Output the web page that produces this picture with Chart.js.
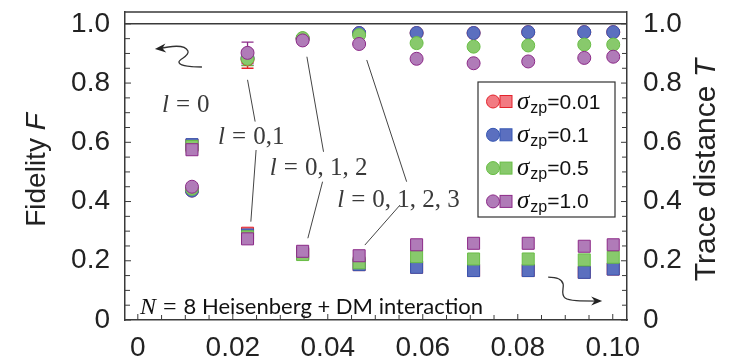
<!DOCTYPE html>
<html>
<head>
<meta charset="utf-8">
<script src="https://cdn.jsdelivr.net/npm/chart.js@4.4.1/dist/chart.umd.min.js"></script>
<style>
  html, body { margin: 0; background: #fff; }
  #wrap { width: 736px; height: 360px; }
</style>
</head>
<body>
<div id="wrap"><canvas id="fidelity"></canvas></div>
<script>
// mismatch strength on the x axis
const xVals = [0.0114, 0.0231, 0.0347, 0.0466, 0.0587, 0.0707, 0.0822, 0.0940, 0.1001];
const sigmaLabels = ["0.01", "0.1", "0.5", "1.0"];

// fidelity F (circles, left axis)
const fidRed    = [0.437, 0.880, 0.950, 0.969, 0.969, 0.969, 0.972, 0.972, 0.972];
const fidBlue   = [0.437, 0.885, 0.950, 0.969, 0.969, 0.969, 0.972, 0.972, 0.972];
const fidGreen  = [0.443, 0.882, 0.952, 0.962, 0.935, 0.923, 0.927, 0.930, 0.930];
const fidPurple = [0.450, 0.902, 0.944, 0.932, 0.882, 0.867, 0.873, 0.885, 0.889];

// error bars on F
const errRed    = [0, 0.030, 0, 0, 0, 0, 0, 0, 0];
const errBlue   = [0, 0.025, 0, 0, 0, 0, 0, 0, 0];
const errGreen  = [0, 0.023, 0, 0, 0, 0, 0, 0, 0];
const errPurple = [0, 0.036, 0, 0, 0, 0, 0, 0, 0];

// trace distance T (squares, right axis)
const trRed    = [0.591, 0.293, 0.224, 0.187, 0.178, 0.167, 0.167, 0.161, 0.172];
const trBlue   = [0.592, 0.287, 0.224, 0.187, 0.178, 0.167, 0.167, 0.161, 0.172];
const trGreen  = [0.586, 0.281, 0.221, 0.193, 0.214, 0.206, 0.206, 0.203, 0.212];
const trPurple = [0.575, 0.274, 0.232, 0.217, 0.254, 0.259, 0.259, 0.249, 0.254];

const series = [
  { name: sigmaLabels[0], fid: fidRed, err: errRed, tr: trRed, fill: "#f27a82", edge: "#e3232c", order: 3 },
  { name: sigmaLabels[1], fid: fidBlue, err: errBlue, tr: trBlue, fill: "#5b6fbf", edge: "#3657b3", order: 2 },
  { name: sigmaLabels[2], fid: fidGreen, err: errGreen, tr: trGreen, fill: "#88c96c", edge: "#68bd45", order: 1 },
  { name: sigmaLabels[3], fid: fidPurple, err: errPurple, tr: trPurple, fill: "#b07bb8", edge: "#8c2a88", order: 0 },
];

// l = ... labels and their leader lines (data coordinates)
const annoLabels = [
  { text: "0", x: 0.0051, y: 0.726 },
  { text: "0,1", x: 0.0169, y: 0.618 },
  { text: "0, 1, 2", x: 0.0278, y: 0.513 },
  { text: "0, 1, 2, 3", x: 0.0420, y: 0.405 },
];
const leaders = [
  [0.0231, 0.811, 0.0247, 0.670],
  [0.0249, 0.574, 0.0238, 0.332],
  [0.0356, 0.889, 0.0391, 0.568],
  [0.0389, 0.467, 0.0358, 0.276],
  [0.0482, 0.878, 0.0566, 0.467],
  [0.0552, 0.388, 0.0478, 0.253],
];

const datasets = [];
series.forEach((s) => {
  datasets.push({
    label: "F " + s.name,
    data: xVals.map((x, i) => ({ x: x, y: s.fid[i] })),
    yAxisID: "y",
    pointStyle: "circle",
    pointRadius: 6.5,
    pointHoverRadius: 6.5,
    backgroundColor: s.fill,
    borderColor: s.edge,
    borderWidth: 1,
    order: s.order,
  });
  datasets.push({
    label: "T " + s.name,
    data: xVals.map((x, i) => ({ x: x, y: s.tr[i] })),
    yAxisID: "y2",
    pointStyle: "rect",
    pointRadius: 8.5,
    pointHoverRadius: 8.5,
    backgroundColor: s.fill,
    borderColor: s.edge,
    borderWidth: 1,
    order: s.order,
  });
});

const SANS = '"Liberation Sans", Arial, sans-serif';
const SERIF = '"Liberation Serif", "Times New Roman", serif';

function drawRuns(ctx, x, y, parts) {
  parts.forEach((p) => {
    ctx.font = p.font;
    ctx.fillText(p.t, x, y + (p.dy || 0));
    x += ctx.measureText(p.t).width + (p.gap || 0);
  });
  return x;
}

function arrowHead(ctx, x, y, ang) {
  ctx.save();
  ctx.translate(x, y);
  ctx.rotate(ang);
  ctx.beginPath();
  ctx.moveTo(0, 0);
  ctx.lineTo(-11, -4.5);
  ctx.lineTo(-7.5, 0);
  ctx.lineTo(-11, 4.5);
  ctx.closePath();
  ctx.fill();
  ctx.restore();
}

function inwardTicks(ctx, scale, side, area) {
  const step = scale.options.ticks.stepSize;
  scale.ticks.forEach((t) => {
    const k = Math.round(t.value / step);
    const len = k % 4 === 0 ? 6 : 5;
    const p = scale.getPixelForValue(t.value);
    ctx.beginPath();
    if (side === "bottom") { ctx.moveTo(p, area.bottom); ctx.lineTo(p, area.bottom - len); }
    if (side === "left") { ctx.moveTo(area.left, p); ctx.lineTo(area.left + len, p); }
    if (side === "right") { ctx.moveTo(area.right, p); ctx.lineTo(area.right - len, p); }
    ctx.stroke();
  });
}

const decor = {
  id: "decor",
  beforeDatasetsDraw(chart) {
    const ctx = chart.ctx;
    const xs = chart.scales.x, ys = chart.scales.y;
    ctx.save();
    ctx.lineWidth = 1.3;
    series.forEach((s) => {
      ctx.strokeStyle = s.edge;
      xVals.forEach((x, i) => {
        if (!s.err[i]) return;
        const px = xs.getPixelForValue(x);
        const lo = ys.getPixelForValue(s.fid[i] - s.err[i]);
        const hi = ys.getPixelForValue(s.fid[i] + s.err[i]);
        ctx.beginPath();
        ctx.moveTo(px, lo); ctx.lineTo(px, hi);
        ctx.moveTo(px - 6, lo); ctx.lineTo(px + 6, lo);
        ctx.moveTo(px - 6, hi); ctx.lineTo(px + 6, hi);
        ctx.stroke();
      });
    });
    ctx.restore();
  },
  afterDraw(chart) {
    const ctx = chart.ctx;
    const a = chart.chartArea;
    const xs = chart.scales.x, ys = chart.scales.y;
    const P = (xv, yv) => [xs.getPixelForValue(xv), ys.getPixelForValue(yv)];
    ctx.save();

    // frame top and the F = 1 line
    ctx.strokeStyle = "#3a3a3a";
    ctx.lineWidth = 1.5;
    ctx.beginPath();
    ctx.moveTo(a.left, a.top); ctx.lineTo(a.right, a.top);
    const one = ys.getPixelForValue(1);
    ctx.moveTo(a.left, one); ctx.lineTo(a.right, one);
    ctx.stroke();

    // tick marks pointing into the plot
    ctx.lineWidth = 1;
    inwardTicks(ctx, xs, "bottom", a);
    inwardTicks(ctx, ys, "left", a);
    inwardTicks(ctx, chart.scales.y2, "right", a);

    // leader lines
    ctx.strokeStyle = "#444";
    ctx.lineWidth = 1;
    leaders.forEach((l) => {
      const p0 = P(l[0], l[1]), p1 = P(l[2], l[3]);
      ctx.beginPath();
      ctx.moveTo(p0[0], p0[1]);
      ctx.lineTo(p1[0], p1[1]);
      ctx.stroke();
    });

    // l = ... labels
    ctx.fillStyle = "#3a3a3a";
    ctx.textBaseline = "middle";
    ctx.textAlign = "left";
    annoLabels.forEach((l) => {
      const p = P(l.x, l.y);
      drawRuns(ctx, p[0], p[1], [
        { t: "l", font: "italic 25px " + SERIF, gap: 7 },
        { t: "=", font: "25px " + SERIF, gap: 7 },
        { t: l.text, font: "25px " + SERIF },
      ]);
    });

    // curly arrows
    ctx.strokeStyle = "#333";
    ctx.fillStyle = "#222";
    ctx.lineWidth = 1.3;
    let [tx, ty] = P(0.0036, 0.915);
    ctx.beginPath();
    ctx.moveTo(tx + 4, ty);
    ctx.bezierCurveTo(tx + 15, ty - 3, tx + 30, ty - 5, tx + 33, ty + 2);
    ctx.bezierCurveTo(tx + 35, ty + 7, tx + 24, ty + 10, tx + 24, ty + 13);
    ctx.bezierCurveTo(tx + 24, ty + 17, tx + 38, ty + 18, tx + 47, ty + 18);
    ctx.stroke();
    arrowHead(ctx, tx, ty, Math.PI - 0.1);

    let [sx, sy] = P(0.0864, 0.145);
    ctx.beginPath();
    ctx.moveTo(sx, sy);
    ctx.bezierCurveTo(sx + 7, sy, sx + 14, sy + 2, sx + 15, sy + 7);
    ctx.bezierCurveTo(sx + 16, sy + 12, sx + 12, sy + 17, sx + 17, sy + 21);
    ctx.bezierCurveTo(sx + 21, sy + 24, sx + 32, sy + 24, sx + 50, sy + 24);
    ctx.stroke();
    arrowHead(ctx, sx + 54, sy + 24, 0);

    // model caption
    ctx.fillStyle = "#111";
    ctx.textBaseline = "alphabetic";
    drawRuns(ctx, a.left + 15, a.bottom - 6, [
      { t: "N", font: "italic 24px " + SERIF, gap: 7 },
      { t: "=", font: "24px " + SERIF, gap: 7 },
      { t: "8 Heisenberg + DM interaction", font: "22px Lato, sans-serif" },
    ]);

    // legend
    const lx = a.right - 149, ly = a.top + 70;
    ctx.fillStyle = "#fff";
    ctx.fillRect(lx, ly, 137, 135);
    ctx.strokeStyle = "#333";
    ctx.lineWidth = 1.2;
    ctx.strokeRect(lx, ly, 137, 135);
    series.forEach((s, i) => {
      const cy = ly + 19.5 + i * 33.3;
      ctx.fillStyle = s.fill;
      ctx.strokeStyle = s.edge;
      ctx.lineWidth = 1;
      ctx.beginPath();
      ctx.arc(lx + 15, cy, 6.5, 0, Math.PI * 2);
      ctx.fill();
      ctx.stroke();
      ctx.fillRect(lx + 22, cy - 6, 12, 12);
      ctx.strokeRect(lx + 22, cy - 6, 12, 12);
      ctx.fillStyle = "#111";
      drawRuns(ctx, lx + 39, cy + 7, [
        { t: "\u03c3", font: "italic 25px " + SERIF, gap: 1 },
        { t: "zp", font: "16px " + SANS, dy: 4 },
        { t: "=" + s.name, font: "21px " + SANS },
      ]);
    });

    // axis titles
    ctx.fillStyle = "#222";
    ctx.save();
    ctx.translate(37, (a.top + a.bottom) / 2 + 4);
    ctx.rotate(-Math.PI / 2);
    ctx.textBaseline = "middle";
    ctx.font = "28px " + SANS;
    const w1 = ctx.measureText("Fidelity ").width;
    ctx.font = "italic 28px " + SANS;
    const w2 = ctx.measureText("F").width;
    drawRuns(ctx, -(w1 + w2) / 2, 0, [
      { t: "Fidelity ", font: "28px " + SANS },
      { t: "F", font: "italic 28px " + SANS },
    ]);
    ctx.restore();

    ctx.save();
    ctx.translate(707, (a.top + a.bottom) / 2 + 4);
    ctx.rotate(-Math.PI / 2);
    ctx.textBaseline = "middle";
    ctx.font = "30px " + SANS;
    const w3 = ctx.measureText("Trace distance ").width;
    ctx.font = "italic 30px " + SANS;
    const w4 = ctx.measureText("T").width;
    drawRuns(ctx, -(w3 + w4) / 2, 0, [
      { t: "Trace distance ", font: "30px " + SANS },
      { t: "T", font: "italic 30px " + SANS },
    ]);
    ctx.restore();

    ctx.restore();
  },
};

const tickFont = { family: "Liberation Sans", size: 28 };
const yLabel = (v) => {
  const k = Math.round(v / 0.05);
  if (k % 4 !== 0) return "";
  return k === 0 ? "0" : (k * 0.05).toFixed(1);
};
// keep tick labels from pushing the plot area around
const noOverflow = (s) => {
  s.paddingTop = 0;
  s.paddingBottom = 0;
  s.paddingLeft = 0;
  s.paddingRight = 0;
};

new Chart(document.getElementById("fidelity"), {
  type: "scatter",
  data: { datasets: datasets },
  options: {
    responsive: true,
    maintainAspectRatio: false,
    animation: false,
    events: [],
    layout: { padding: { top: 12, left: 0, right: 0, bottom: 0 } },
    plugins: { legend: { display: false }, tooltip: { enabled: false } },
    scales: {
      x: {
        type: "linear",
        min: -0.0027,
        max: 0.103,
        grid: { display: false },
        border: { display: true, color: "#3a3a3a", width: 1.5 },
        ticks: {
          stepSize: 0.005,
          autoSkip: false,
          includeBounds: false,
          maxRotation: 0,
          padding: 3,
          color: "#222",
          font: tickFont,
          callback: (v) => {
            const k = Math.round(v / 0.005);
            if (k % 4 !== 0) return "";
            return k === 0 ? "0" : (k * 0.005).toFixed(2);
          },
        },
        afterFit: (s) => { s.height = 40; noOverflow(s); },
      },
      y: {
        position: "left",
        min: 0,
        max: 1.04,
        grid: { display: false },
        border: { display: true, color: "#3a3a3a", width: 1.5 },
        ticks: {
          stepSize: 0.05,
          autoSkip: false,
          includeBounds: false,
          padding: 7,
          color: "#222",
          font: tickFont,
          callback: yLabel,
        },
        afterFit: (s) => { s.width = 125; noOverflow(s); },
      },
      y2: {
        position: "right",
        min: 0,
        max: 1.04,
        grid: { display: false },
        border: { display: true, color: "#3a3a3a", width: 1.5 },
        ticks: {
          stepSize: 0.05,
          autoSkip: false,
          includeBounds: false,
          padding: 8,
          color: "#222",
          font: tickFont,
          callback: yLabel,
        },
        afterFit: (s) => { s.width = 109; noOverflow(s); },
      },
    },
  },
  plugins: [decor],
});
</script>
</body>
</html>
